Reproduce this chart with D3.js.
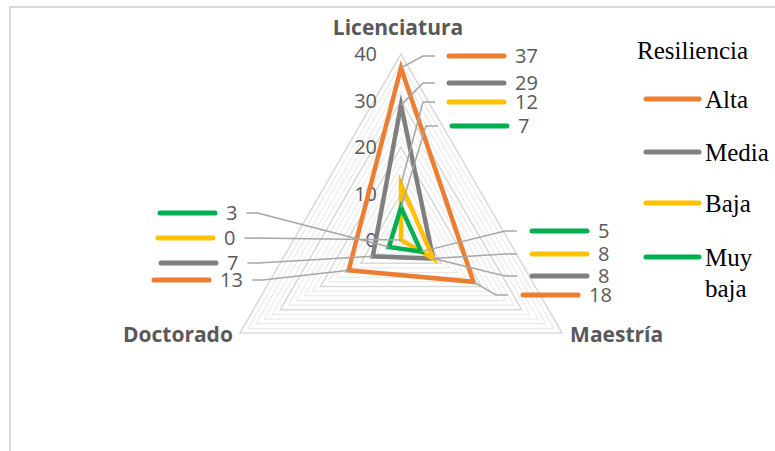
<!DOCTYPE html>
<html>
<head>
<meta charset="utf-8">
<script src="https://cdn.jsdelivr.net/npm/d3@7"></script>
<style>
  body { margin: 0; background: #fff; }
  svg { display: block; }
</style>
</head>
<body>
<div id="chart"></div>
<script>
// data
var categories = ['Licenciatura', 'Maestría', 'Doctorado'];
var seriesNames = ['Alta', 'Media', 'Baja', 'Muy baja'];
var alta = [37, 18, 13];
var media = [29, 8, 7];
var baja = [12, 8, 0];
var muyBaja = [7, 5, 3];
var tickValues = [0, 10, 20, 30, 40];
var legendTitle = 'Resiliencia';

var seriesValues = [alta, media, baja, muyBaja];
var colors = ['#ED7D31', '#7F7F7F', '#FFC000', '#00B050'];

var width = 775, height = 451;
var cx = 401, cy = 240, radius = 186;
var labelFont = '"Open Sans", "Noto Sans", sans-serif';

//angle of each category axis, screen coordinates
var angle = d3.scaleOrdinal().domain(categories).range([-90, 30, 150].map(function (d) { return d * Math.PI / 180 }));
var r = d3.scaleLinear().domain([0, 40]).range([0, radius]);

function pt(cat, v) {
   var a = angle(cat);
   return [cx + r(v) * Math.cos(a), cy + r(v) * Math.sin(a)];
}

var svg = d3.select('#chart').append('svg')
   .attr('width', width)
   .attr('height', height);

//chart area border (only top and left visible)
svg.append('path')
   .attr('d', 'M10,451 L10,7 L775,7')
   .attr('fill', 'none')
   .attr('stroke', '#d9d9d9')
   .attr('stroke-width', 2);

//gridlines, minor every 2, major every 10
var line = d3.line().curve(d3.curveLinearClosed);
var gridVals = d3.range(2, 41, 2);
svg.append('g').selectAll('path')
   .data(gridVals)
   .enter()
   .append('path')
   .attr('d', function (v) { return line(categories.map(function (c) { return pt(c, v) })) })
   .attr('fill', 'none')
   .attr('stroke', function (v) { return v % 10 == 0 ? '#d9d9d9' : '#e6e6e6' })
   .attr('stroke-width', function (v) { return v % 10 == 0 ? 1.5 : 1 });

//tick labels on the Licenciatura axis
svg.append('g').selectAll('text')
   .data(tickValues)
   .enter()
   .append('text')
   .attr('x', cx - 24)
   .attr('y', function (v) { return cy - r(v) })
   .attr('dy', '0.35em')
   .attr('text-anchor', 'end')
   .attr('font-family', labelFont)
   .attr('font-size', '20px')
   .attr('fill', '#595959')
   .text(function (v) { return v });

//category labels
var catLabelPos = {
   'Licenciatura': {dx: -3, dy: -26, anchor: 'middle'},
   'Maestría': {dx: 8, dy: 2, anchor: 'start'},
   'Doctorado': {dx: -7, dy: 2, anchor: 'end'}
};
svg.append('g').selectAll('text')
   .data(categories)
   .enter()
   .append('text')
   .attr('x', function (c) { return pt(c, 40)[0] + catLabelPos[c].dx })
   .attr('y', function (c) { return pt(c, 40)[1] + catLabelPos[c].dy })
   .attr('dy', '0.35em')
   .attr('text-anchor', function (c) { return catLabelPos[c].anchor })
   .attr('font-family', labelFont)
   .attr('font-weight', 'bold')
   .attr('font-size', '21px')
   .attr('fill', '#595959')
   .text(function (c) { return c });

//series polygons
svg.append('g').selectAll('path')
   .data(seriesValues)
   .enter()
   .append('path')
   .attr('d', function (vals) { return line(categories.map(function (c, i) { return pt(c, vals[i]) })) })
   .attr('fill', 'none')
   .attr('stroke', function (d, i) { return colors[i] })
   .attr('stroke-width', 4.5)
   .attr('stroke-linejoin', 'miter')
   .attr('stroke-miterlimit', 10);

//data labels with legend key, placed by hand like in the original
var labelPos = {
   'Licenciatura': [[449, 56], [449, 83], [449, 102], [452, 126]],
   'Maestría': [[523, 295], [532, 276], [532, 254], [532, 231]],
   'Doctorado': [[154, 280], [161, 263], [158, 238], [160, 213]]
};
var labels = [];
categories.forEach(function (c, ci) {
   seriesValues.forEach(function (vals, si) {
      labels.push({cat: c, ci: ci, si: si, value: vals[ci], x: labelPos[c][si][0], y: labelPos[c][si][1]});
   });
});

var lab = svg.append('g').selectAll('g')
   .data(labels)
   .enter()
   .append('g');

lab.append('line')
   .attr('x1', function (d) { return d.x })
   .attr('x2', function (d) { return d.x + 55 })
   .attr('y1', function (d) { return d.y })
   .attr('y2', function (d) { return d.y })
   .attr('stroke', function (d) { return colors[d.si] })
   .attr('stroke-width', 5)
   .attr('stroke-linecap', 'round');

lab.append('text')
   .attr('x', function (d) { return d.x + 66 })
   .attr('y', function (d) { return d.y })
   .attr('dy', '0.35em')
   .attr('font-family', labelFont)
   .attr('font-size', '20px')
   .attr('fill', '#595959')
   .text(function (d) { return d.value });

//leader lines
lab.each(function (d) {
   var g = d3.select(this);
   var p = pt(d.cat, d.value);
   var x0, x1;
   if (d.cat == 'Doctorado') {
      var bb = g.select('text').node().getBBox();
      x0 = bb.x + bb.width + 9;
      x1 = d.value == 0 ? x0 : x0 + 11;
   } else if (d.cat == 'Licenciatura') {
      x0 = d.x - 14;
      x1 = x0 - 12;
   } else {
      x0 = d.x - 15;
      x1 = x0 - 12;
   }
   g.insert('polyline', ':first-child')
      .attr('points', [[x0, d.y], [x1, d.y], p].map(function (q) { return q.join(',') }).join(' '))
      .attr('fill', 'none')
      .attr('stroke', '#a6a6a6')
      .attr('stroke-width', 1.5);
});

//legend
var legend = svg.append('g').attr('font-family', '"Liberation Serif", "Times New Roman", serif');
legend.append('text')
   .attr('x', 637)
   .attr('y', 50)
   .attr('dy', '0.35em')
   .attr('font-size', '25px')
   .attr('fill', '#000')
   .text(legendTitle);

var legendY = [99, 152, 203, 257];
var item = legend.selectAll('g.item')
   .data(seriesNames)
   .enter()
   .append('g')
   .attr('class', 'item')
   .attr('transform', function (d, i) { return 'translate(0,' + legendY[i] + ')' });

item.append('line')
   .attr('x1', 646).attr('x2', 699)
   .attr('stroke', function (d, i) { return colors[i] })
   .attr('stroke-width', 5)
   .attr('stroke-linecap', 'round');

item.append('text')
   .attr('x', 705)
   .attr('font-size', '25px')
   .attr('fill', '#000')
   .each(function (d) {
      var words = d.split(' ');
      var t = d3.select(this);
      words.forEach(function (w, i) {
         t.append('tspan').attr('x', 705).attr('dy', i == 0 ? '0.35em' : '1.25em').text(w);
      });
   });
</script>
</body>
</html>
